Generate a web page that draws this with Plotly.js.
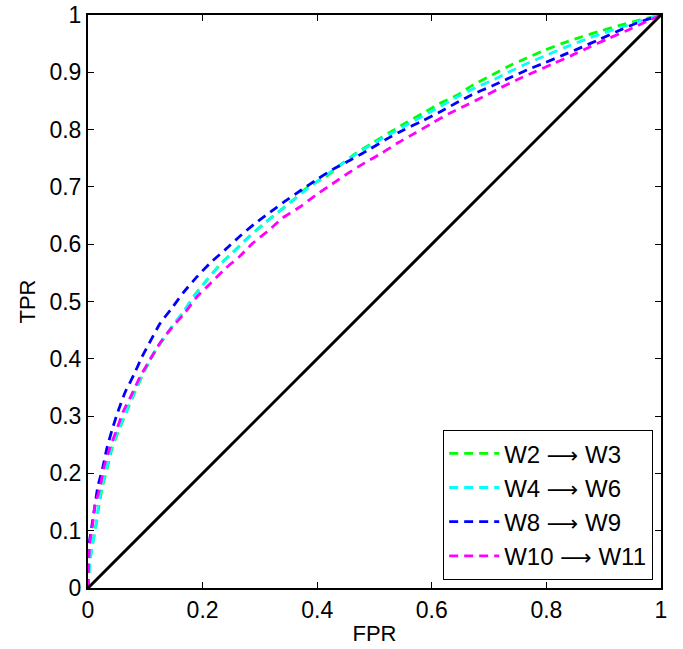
<!DOCTYPE html>
<html>
<head>
<meta charset="utf-8">
<script src="https://cdn.plot.ly/plotly-3.0.1.min.js"></script>
<style>html,body{margin:0;padding:0;background:#fff;}#chart{width:683px;height:649px;}</style>
</head>
<body>
<div id="chart"></div>
<script>
const arrow = "<span style='font-family:DejaVu Sans;font-size:22px'>\u27f6</span>";
const seriesNames = ["W2 " + arrow + " W3", "W4 " + arrow + " W6", "W8 " + arrow + " W9", "W10 " + arrow + " W11"];
const seriesColors = ["#00ff00", "#00ffff", "#0000ff", "#ff00ff"];

const fprW2 = [0, 0.003, 0.008, 0.014, 0.019, 0.025, 0.034, 0.042, 0.054, 0.067, 0.081, 0.095, 0.110, 0.127, 0.147, 0.167, 0.186, 0.208, 0.230, 0.253, 0.279, 0.305, 0.332, 0.358, 0.384, 0.414, 0.440, 0.468, 0.497, 0.525, 0.555, 0.585, 0.613, 0.644, 0.672, 0.705, 0.733, 0.766, 0.798, 0.829, 0.862, 0.894, 0.925, 0.958, 1];
const tprW2 = [0, 0.044, 0.077, 0.110, 0.143, 0.176, 0.211, 0.244, 0.276, 0.307, 0.340, 0.371, 0.401, 0.428, 0.456, 0.482, 0.511, 0.538, 0.564, 0.586, 0.611, 0.634, 0.656, 0.677, 0.700, 0.717, 0.738, 0.759, 0.777, 0.794, 0.812, 0.829, 0.845, 0.860, 0.878, 0.895, 0.910, 0.925, 0.939, 0.951, 0.962, 0.972, 0.981, 0.990, 1];

const fprW4 = [0, 0.003, 0.008, 0.014, 0.018, 0.024, 0.033, 0.041, 0.053, 0.066, 0.080, 0.094, 0.109, 0.126, 0.146, 0.166, 0.187, 0.208, 0.230, 0.253, 0.279, 0.305, 0.332, 0.358, 0.384, 0.410, 0.440, 0.468, 0.497, 0.527, 0.556, 0.585, 0.614, 0.644, 0.676, 0.710, 0.740, 0.770, 0.801, 0.834, 0.867, 0.898, 0.930, 0.962, 1];
const tprW4 = [0, 0.044, 0.077, 0.110, 0.143, 0.176, 0.211, 0.244, 0.276, 0.307, 0.340, 0.371, 0.401, 0.428, 0.456, 0.482, 0.511, 0.538, 0.564, 0.586, 0.611, 0.634, 0.656, 0.677, 0.698, 0.717, 0.738, 0.757, 0.775, 0.792, 0.808, 0.824, 0.840, 0.857, 0.873, 0.888, 0.903, 0.917, 0.930, 0.944, 0.957, 0.968, 0.978, 0.989, 1];

const fprW8 = [0, 0.000, 0.002, 0.007, 0.012, 0.017, 0.026, 0.033, 0.042, 0.052, 0.065, 0.080, 0.094, 0.110, 0.126, 0.146, 0.166, 0.190, 0.213, 0.239, 0.264, 0.290, 0.318, 0.344, 0.373, 0.401, 0.428, 0.462, 0.492, 0.522, 0.550, 0.583, 0.611, 0.640, 0.670, 0.705, 0.733, 0.766, 0.798, 0.829, 0.862, 0.894, 0.925, 0.958, 1];
const tprW8 = [0, 0.044, 0.077, 0.110, 0.143, 0.176, 0.211, 0.244, 0.276, 0.307, 0.342, 0.372, 0.403, 0.433, 0.462, 0.488, 0.515, 0.543, 0.567, 0.590, 0.613, 0.635, 0.656, 0.675, 0.695, 0.714, 0.731, 0.749, 0.766, 0.784, 0.799, 0.815, 0.829, 0.845, 0.861, 0.876, 0.889, 0.904, 0.917, 0.930, 0.944, 0.958, 0.972, 0.986, 1];

const fprW10 = [0, 0.000, 0.001, 0.003, 0.008, 0.012, 0.021, 0.028, 0.038, 0.050, 0.061, 0.076, 0.091, 0.108, 0.126, 0.146, 0.169, 0.190, 0.214, 0.239, 0.264, 0.288, 0.314, 0.340, 0.370, 0.398, 0.426, 0.454, 0.483, 0.513, 0.541, 0.571, 0.602, 0.632, 0.661, 0.689, 0.714, 0.749, 0.780, 0.812, 0.845, 0.873, 0.906, 0.941, 0.969, 1];
const tprW10 = [0, 0.012, 0.044, 0.077, 0.110, 0.143, 0.176, 0.211, 0.244, 0.276, 0.307, 0.337, 0.369, 0.398, 0.428, 0.454, 0.480, 0.508, 0.532, 0.557, 0.578, 0.602, 0.623, 0.646, 0.665, 0.686, 0.705, 0.724, 0.742, 0.759, 0.777, 0.794, 0.812, 0.829, 0.843, 0.857, 0.870, 0.887, 0.901, 0.915, 0.930, 0.943, 0.958, 0.973, 0.986, 1];

const diagX = [0, 1];
const diagY = [0, 1];

const xTicks = [0, 0.2, 0.4, 0.6, 0.8, 1];
const xTickText = ["0", "0.2", "0.4", "0.6", "0.8", "1"];
const yTicks = [0, 0.1, 0.2, 0.3, 0.4, 0.5, 0.6, 0.7, 0.8, 0.9, 1];
const yTickText = ["0", "0.1", "0.2", "0.3", "0.4", "0.5", "0.6", "0.7", "0.8", "0.9", "1"];

const xs = [fprW2, fprW4, fprW8, fprW10];
const ys = [tprW2, tprW4, tprW8, tprW10];

const traces = xs.map((x, i) => ({
  x: x, y: ys[i], type: "scatter", mode: "lines", name: seriesNames[i],
  line: {color: seriesColors[i], width: 2.8, dash: "9px,6px", shape: "spline", smoothing: 0.6}
}));
traces.push({x: diagX, y: diagY, type: "scatter", mode: "lines", showlegend: false,
  line: {color: "#000", width: 3}});

const fontFam = "Liberation Sans, Arial, Helvetica, sans-serif";
const layout = {
  width: 683, height: 649,
  margin: {l: 88, r: 22, t: 15, b: 61},
  paper_bgcolor: "#fff", plot_bgcolor: "#fff",
  font: {family: fontFam, size: 23, color: "#000"},
  showlegend: true,
  legend: {x: 0.986, y: 0.014, xanchor: "right", yanchor: "bottom",
    bordercolor: "#000", borderwidth: 1.2, bgcolor: "#fff", itemwidth: 50,
    font: {family: fontFam, size: 24, color: "#000"}, tracegroupgap: 0},
  xaxis: {range: [0, 1], tickvals: xTicks, ticktext: xTickText, ticks: "inside", ticklen: 6,
    tickcolor: "#000", showline: true, linecolor: "#000", linewidth: 2, mirror: "ticks",
    showgrid: false, zeroline: false, title: {text: "FPR", standoff: 4, font: {size: 22}}},
  yaxis: {range: [0, 1], tickvals: yTicks, ticktext: yTickText, ticks: "inside", ticklen: 6,
    tickcolor: "#000", showline: true, linecolor: "#000", linewidth: 2, mirror: "ticks",
    showgrid: false, zeroline: false, title: {text: "TPR", standoff: 8, font: {size: 22}}}
};
Plotly.newPlot("chart", traces, layout, {displayModeBar: false, staticPlot: true});
</script>
</body>
</html>
